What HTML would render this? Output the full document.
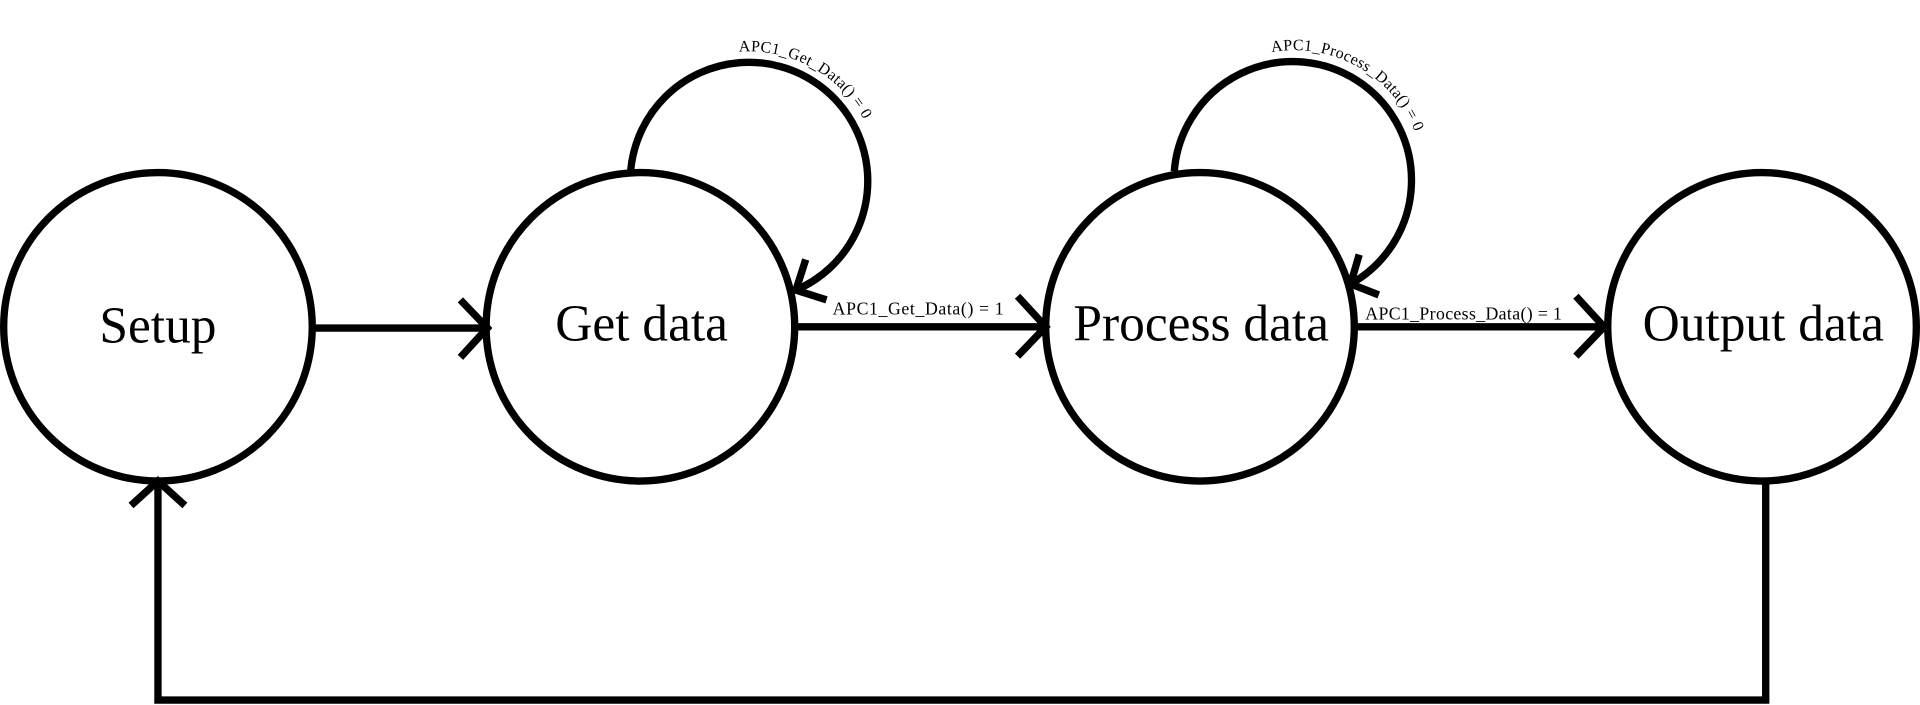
<!DOCTYPE html>
<html><head><meta charset="utf-8"><style>html,body{margin:0;padding:0;background:#fff;width:1920px;height:705px;overflow:hidden}</style></head>
<body>
<svg width="1920" height="705" viewBox="0 0 1568 576" preserveAspectRatio="none" xmlns="http://www.w3.org/2000/svg">
<g fill="none" stroke="#000" stroke-width="6">
<circle cx="129" cy="267" r="126"/>
<circle cx="523" cy="267" r="126"/>
<circle cx="980" cy="267" r="126"/>
<circle cx="1439" cy="267" r="126"/>
<line x1="256" y1="268" x2="397" y2="268"/>
<polyline points="376,245 398,268 376,292"/>
<line x1="650" y1="267" x2="854" y2="267"/>
<polyline points="831,242 854,267 831,291"/>
<line x1="1107" y1="267" x2="1310" y2="267"/>
<polyline points="1287,242 1310,267 1287,291"/>
<polyline points="1442,393 1442,572 129,572 129,395"/>
<polyline points="107,413 129,393 151,413"/>
<path d="M515,140 A97,97 0 1 1 650,237"/>
<polyline points="658,212 650,237 675,245"/>
<path d="M959,140 A97,97 0 1 1 1103,232"/>
<polyline points="1110,208 1103,232 1126,241"/>
</g>
<defs>
<path id="a1" d="M593.6,43.6 A106,106 0 0 1 716.4,166.4"/>
<path id="a2" d="M1038.6,42.6 A106,106 0 0 1 1161.4,165.4"/>
</defs>
<g font-family="Liberation Serif, serif" fill="#000">
<text font-size="13" letter-spacing="0.3"><textPath href="#a1" startOffset="10">APC1_Get_Data() = 0</textPath></text>
<text font-size="13" letter-spacing="0.3"><textPath href="#a2" startOffset="0">APC1_Process_Data() = 0</textPath></text>
<text x="680" y="257" font-size="14.5" letter-spacing="0.5">APC1_Get_Data() = 1</text>
<text x="1115" y="261" font-size="14.5" letter-spacing="0.3">APC1_Process_Data() = 1</text>
<g font-size="42" text-anchor="middle">
<text x="129" y="280">Setup</text>
<text x="524" y="278">Get data</text>
<text x="981" y="278">Process data</text>
<text x="1440" y="278">Output data</text>
</g>
</g>
</svg>
</body></html>
